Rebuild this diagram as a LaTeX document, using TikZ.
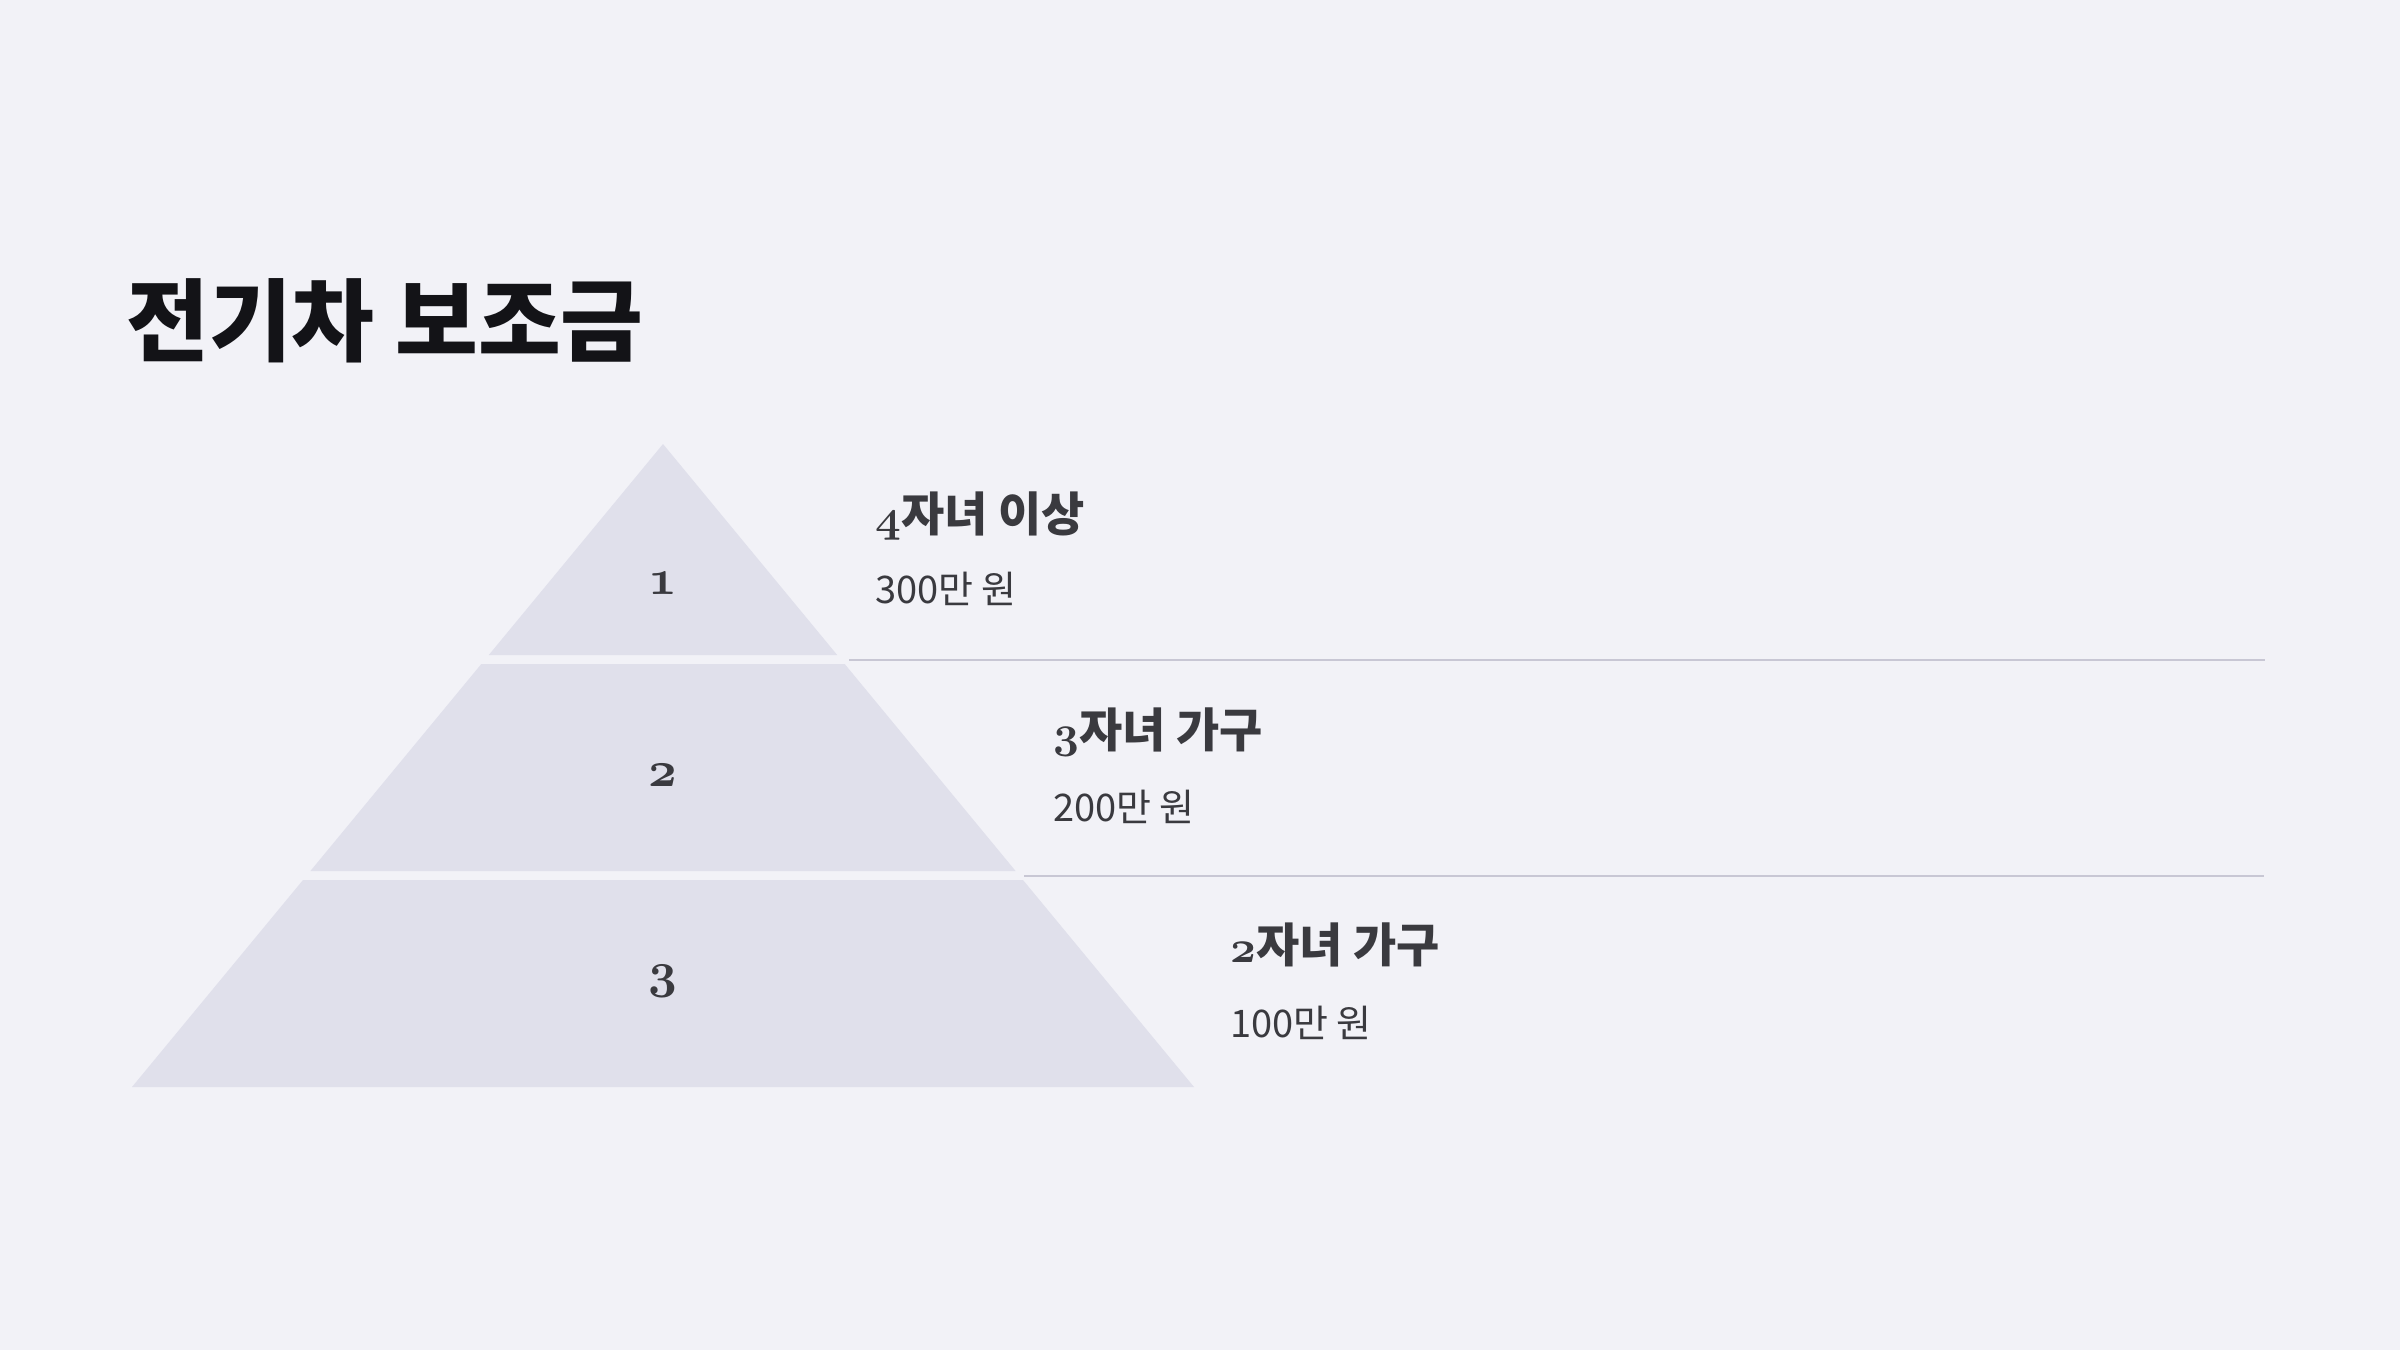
\documentclass[tikz,border=0pt]{standalone}
\usepackage{fontspec}
\usepackage{graphicx}
\newfontfamily\kr{Noto Sans CJK KR}
\newcommand\osfnum[2]{\scalebox{#1}{\fontencoding{OML}\fontfamily{cmm}\fontseries{b}\fontshape{it}\fontsize{10}{12}\selectfont #2}}
\definecolor{bgc}{HTML}{F2F2F7}
\definecolor{tierc}{HTML}{E0E0EB}
\definecolor{titlec}{HTML}{131317}
\definecolor{textc}{HTML}{3A3A3F}
\definecolor{linec}{HTML}{C8C7D4}
\tikzset{
  tier/.style={fill=tierc, draw=none},
  sepline/.style={draw=linec, line width=2pt},
  titletext/.style={font=\kr\bfseries\fontsize{90}{90}\selectfont, text=titlec, inner sep=0pt, anchor=base west},
  headtext/.style={font=\kr\bfseries\fontsize{47}{47}\selectfont, text=textc, inner sep=0pt, anchor=base west},
  subtext/.style={font=\kr\fontsize{38}{38}\selectfont, text=textc, inner sep=0pt, anchor=base west},
  numtext/.style={text=textc, inner sep=0pt, anchor=base},
}
\begin{document}
\begin{tikzpicture}[x=1pt,y=-1pt]
\useasboundingbox (0,0) rectangle (2400,1350);
\fill[bgc] (0,0) rectangle (2400,1350);
% pyramid tiers
\path[tier] (663,444) -- (837.2,655) -- (488.8,655) -- cycle;
\path[tier] (481.3,664) -- (844.7,664) -- (1015.6,871) -- (310.4,871) -- cycle;
\path[tier] (303,880) -- (1023,880) -- (1194,1087) -- (132,1087) -- cycle;
% tier numbers
\node[numtext] (n1) at (663,594) {\osfnum{5}{1}};
\node[numtext] (n2) at (663,786) {\osfnum{5}{2}};
\node[numtext] (n3) at (663,987) {\osfnum{5}{3}};
% separators
\coordinate (s1a) at (849,660);
\coordinate (s1b) at (2265,660);
\coordinate (s2a) at (1024,876);
\coordinate (s2b) at (2264,876);
\draw[sepline] (s1a) -- (s1b);
\draw[sepline] (s2a) -- (s2b);
% title
\node[titletext] (title) at (126,354) {전기차 보조금};
% labels
\node[headtext] (h1) at (875,531) {\osfnum{4.5}{4}자녀 이상};
\node[subtext] (v1) at (875,603) {300만 원};
\node[headtext] (h2) at (1053,747) {\osfnum{4.5}{3}자녀 가구};
\node[subtext] (v2) at (1053,821) {200만 원};
\node[headtext] (h3) at (1230,962) {\osfnum{4.5}{2}자녀 가구};
\node[subtext] (v3) at (1230,1037) {100만 원};
\end{tikzpicture}
\end{document}
